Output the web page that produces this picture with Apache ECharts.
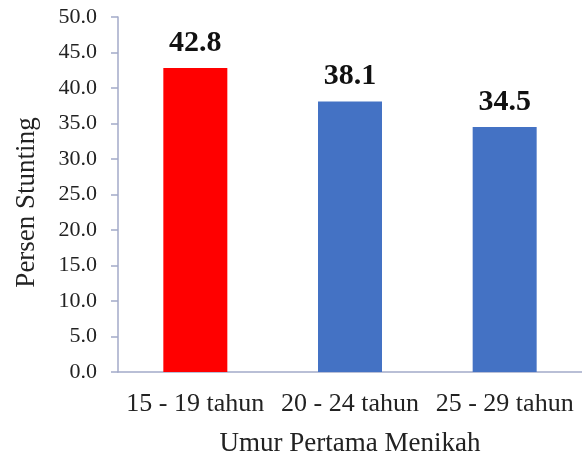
<!DOCTYPE html>
<html>
<head>
<meta charset="utf-8">
<script src="https://cdn.jsdelivr.net/npm/echarts@6/dist/echarts.min.js"></script>
<style>
  html, body { margin: 0; padding: 0; background: #fff; }
  #chart { width: 582px; height: 452px; }
</style>
</head>
<body>
<div id="chart"></div>
<script>
// Age at first marriage groups and stunting percentage
const categories = ["15 - 19 tahun", "20 - 24 tahun", "25 - 29 tahun"];
const stuntingValues = [42.8, 38.1, 34.5];
const barColors = ["#FF0000", "#4472C4", "#4472C4"];

const serif = "'Liberation Serif', 'Times New Roman', serif";
const axisColor = "#a3aac9";

const chart = echarts.init(document.getElementById("chart"));

const option = {
  backgroundColor: "#fff",
  animation: false,
  grid: { left: 118, right: 0, top: 17, bottom: 80, outerBoundsMode: "none", containLabel: false },
  xAxis: {
    type: "category",
    data: categories,
    name: "Umur Pertama Menikah",
    nameLocation: "middle",
    nameGap: 58,
    nameTextStyle: { fontFamily: serif, fontSize: 27, color: "#222" },
    axisLine: { lineStyle: { color: axisColor, width: 1.5 } },
    axisTick: { show: false },
    axisLabel: { fontFamily: serif, fontSize: 26, color: "#222", margin: 19, interval: 0 },
  },
  yAxis: {
    type: "value",
    min: 0,
    max: 50,
    interval: 5,
    name: "Persen Stunting",
    nameLocation: "middle",
    nameGap: 78,
    nameTextStyle: { fontFamily: serif, fontSize: 27, color: "#222", padding: [0, 16, 0, 0] },
    axisLine: { show: true, lineStyle: { color: axisColor, width: 1.5 } },
    axisTick: { show: true, length: 7, lineStyle: { color: axisColor, width: 1.5 } },
    splitLine: { show: false },
    axisLabel: {
      fontFamily: serif,
      fontSize: 22,
      color: "#222",
      margin: 21,
      formatter: (v) => v.toFixed(1),
    },
  },
  series: [
    {
      type: "bar",
      barWidth: 64,
      data: stuntingValues.map((v, i) => ({ value: v, itemStyle: { color: barColors[i] } })),
      label: {
        show: true,
        position: "top",
        distance: 10,
        fontFamily: serif,
        fontSize: 30,
        fontWeight: "bold",
        color: "#111",
        formatter: (p) => p.value.toFixed(1),
      },
    },
  ],
};

chart.setOption(option);
</script>
</body>
</html>
